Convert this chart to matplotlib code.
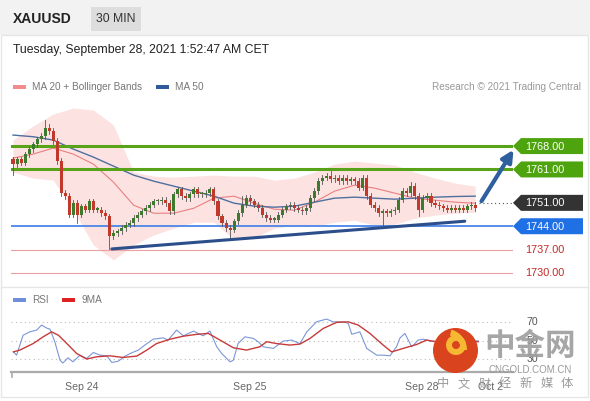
import matplotlib
matplotlib.use("Agg")
from matplotlib import pyplot as plt
from matplotlib.patches import Rectangle, Polygon, Circle, Wedge, FancyArrowPatch

plt.rcParams['font.family'] = ['Liberation Sans', 'Noto Sans CJK SC', 'DejaVu Sans']

# ---- price data (30 min candles, XAUUSD) ----
first_open = 1764.0
closes = [1762.5, 1764.0, 1763.0, 1765.5, 1767.0, 1768.5, 1770.0, 1771.0, 1773.5, 1772.5,
          1769.5, 1763.5, 1754.0, 1753.0, 1747.5, 1751.0, 1747.5, 1750.0, 1749.0, 1751.5,
          1749.0, 1749.0, 1748.0, 1747.0, 1741.0, 1742.0, 1742.5, 1743.5, 1744.5, 1745.0,
          1746.5, 1747.5, 1748.5, 1749.5, 1750.5, 1751.5, 1751.5, 1752.0, 1751.0, 1748.5,
          1753.5, 1755.0, 1753.0, 1752.5, 1753.5, 1755.0, 1753.5, 1753.5, 1754.0, 1755.0,
          1751.5, 1747.0, 1745.0, 1743.5, 1743.0, 1745.5, 1748.0, 1750.5, 1752.5, 1751.5,
          1750.5, 1749.5, 1747.5, 1746.5, 1746.0, 1746.0, 1747.5, 1749.0, 1750.0, 1750.5,
          1749.5, 1749.0, 1748.5, 1749.5, 1752.5, 1754.5, 1757.5, 1758.5, 1759.0, 1758.0,
          1758.5, 1757.5, 1758.5, 1757.5, 1758.0, 1757.5, 1755.5, 1758.5, 1753.0, 1750.5,
          1749.5, 1748.0, 1748.5, 1748.0, 1748.5, 1749.0, 1752.0, 1754.5, 1754.0, 1756.0,
          1753.0, 1749.0, 1752.5, 1753.0, 1751.0, 1750.5, 1750.0, 1749.5, 1749.0, 1749.5,
          1749.0, 1749.5, 1749.0, 1750.0, 1750.5, 1749.5]
high_marks = {8: 1775.8, 9: 1774.5, 79: 1760.5, 99: 1757.2, 57: 1753.0}
low_marks = {0: 1759.3, 16: 1745.0, 24: 1737.2, 54: 1739.8, 92: 1744.3, 101: 1747.0}

# indicators sampled every 5 candles
ma_idx = [0, 5, 10, 15, 20, 25, 30, 35, 40, 45, 50, 55, 60, 65, 70, 75, 80, 85, 90, 95, 100, 105, 110, 115]
ma50 = [1771.3, 1770.8, 1769.8, 1767.1, 1764.7, 1762.0, 1759.3, 1757.5, 1756.0, 1754.5, 1753.0, 1750.9,
        1750.0, 1749.7, 1750.0, 1751.2, 1752.4, 1752.7, 1752.4, 1752.1, 1752.4, 1752.7, 1752.9, 1753.0]
ma20 = [1764.4, 1765.6, 1767.4, 1765.6, 1762.6, 1757.2, 1750.3, 1747.9, 1747.9, 1749.4, 1752.4, 1753.0,
        1750.9, 1749.1, 1748.8, 1751.2, 1754.5, 1756.3, 1755.4, 1753.9, 1752.4, 1751.8, 1751.2, 1750.9]
bb_upper = [1769.8, 1774.0, 1777.6, 1779.4, 1778.8, 1774.3, 1760.2, 1759.0, 1758.7, 1759.0, 1759.3, 1759.0,
            1759.0, 1757.8, 1758.4, 1760.2, 1762.6, 1763.5, 1762.9, 1762.3, 1760.2, 1758.4, 1756.9, 1756.0]
bb_lower = [1760.2, 1758.4, 1757.8, 1748.8, 1738.4, 1733.9, 1738.4, 1741.4, 1743.4, 1745.2, 1745.2, 1739.9,
            1740.5, 1743.4, 1744.3, 1744.0, 1745.2, 1745.8, 1744.3, 1744.6, 1746.4, 1747.3, 1747.9, 1748.2]

rsi_idx = [0.1, 0.9, 2.5, 4.2, 5.9, 7.1, 8.4, 9.2, 10.4, 11.7, 12.4, 13.7, 14.9, 16.7, 18.3, 20.0, 21.6,
           23.3, 24.6, 26.2, 27.9, 29.5, 31.2, 32.8, 34.9, 37.4, 38.6, 40.7, 42.4, 44.9, 47.3, 49.0, 50.7,
           51.9, 54.0, 54.8, 56.0, 57.7, 59.8, 61.0, 62.3, 64.8, 67.2, 69.3, 71.4, 73.1, 75.5, 78.0, 79.7,
           82.2, 83.4, 84.3, 86.3, 88.0, 90.5, 92.1, 93.8, 95.4, 96.3, 97.5, 99.2, 100.8, 102.1, 103.7,
           105.4, 115.7]
rsi = [38, 34.5, 56, 59.7, 61.6, 67, 63.7, 62.6, 49, 29, 26, 31.6, 27.3, 34.5, 31, 37.4, 34.5,
       33.8, 26.6, 28, 33.5, 37, 40, 45.4, 51.8, 53.2, 50.8, 61.6, 55.4, 60.5, 55.4, 60.5, 43.5,
       36.4, 27.3, 29, 47, 54.3, 52.6, 49, 43.5, 41.8, 49.7, 50.8, 47, 59.7, 70.5, 73.5, 70.5,
       70.5, 68.8, 57, 59.7, 41.8, 34.5, 34.5, 33.8, 43.5, 53.2, 58, 43.5, 50.8, 51.8, 49.7,
       49, 50]
rsi9_idx = [0.1, 1.7, 5.0, 7.5, 9.6, 11.3, 13.4, 15.8, 18.3, 20.8, 24.1, 27.4, 30.8, 33.3, 35.7, 39.1,
            42.4, 45.7, 48.6, 51.5, 54.8, 58.1, 61.4, 63.1, 65.6, 68.9, 71.4, 73.9, 77.2, 80.5, 83.4,
            85.9, 88.8, 92.1, 94.2, 97.1, 100.4, 102.9, 105.4, 115.7]
rsi9 = [38, 40, 47, 54.3, 59.7, 56, 47, 36.4, 30.3, 32.7, 33.8, 32, 33.5, 40, 47, 51.8,
        55, 57, 58, 50.8, 42.5, 40, 43.5, 49, 47, 45.4, 46.5, 52.6, 63.4, 69.9, 70.5,
        67, 58, 45.4, 38, 41.8, 46, 50.8, 49, 49]

resistances = [1768.0, 1761.0]
supports = [1744.0, 1737.0, 1730.0]
last_price = 1751.0
trend_idx = [24.6, 112.4]
trend_px = [1737.2, 1745.5]
arrow_from = (116.2, 1750.8)
arrow_to = (124.9, 1767.6)

date_ticks = [17.2, 59.0, 101.8, 118.7]
date_labels = ['Sep 24', 'Sep 25', 'Sep 28', 'Oct 2']

slogan = ['中', '文', '财', '经', '新', '媒', '体']

# ---- layout ----
W, H = 590, 401
Y_TOP, Y_BOT = 1780.3, 1726.4
X_MIN, X_MAX = -0.5, 124.4


def box(l, t, r, b):
    return [l / W, 1 - b / H, (r - l) / W, (b - t) / H]


def py(price):  # price -> pixel row
    return 105 + (Y_TOP - price) * 180 / (Y_TOP - Y_BOT)


fig = plt.figure(figsize=(W / 100, H / 100), dpi=100)
fig.patch.set_facecolor('white')

bg = fig.add_axes([0, 0, 1, 1], zorder=-1)
bg.set_xlim(0, W)
bg.set_ylim(H, 0)
bg.axis('off')

# header strip
bg.add_patch(Rectangle((0, 0), W, 35, color='#f2f2f2', lw=0))
bg.add_patch(Rectangle((91, 7), 50, 24, color='#dddddd', lw=0))
bg.text(13, 19, 'XAUUSD', fontsize=10, fontweight='bold', color='#222222', va='center')
bg.text(116, 19, '30 MIN', fontsize=8.8, color='#333333', va='center', ha='center')
bg.add_patch(Rectangle((1, 35), 587, 362, fc='none', ec='#e6e6e6', lw=1))
bg.plot([1, 588], [287, 287], color='#e6e6e6', lw=1)
bg.text(13, 50, 'Tuesday, September 28, 2021 1:52:47 AM CET', fontsize=8.8, color='#222222', va='center')

# legends
bg.add_patch(Rectangle((13, 85), 13, 4, color='#f08c8c', lw=0))
bg.text(32, 87, 'MA 20 + Bollinger Bands', fontsize=7.2, color='#777777', va='center')
bg.add_patch(Rectangle((156, 85), 13, 4, color='#2f5b9a', lw=0))
bg.text(175, 87, 'MA 50', fontsize=7.2, color='#777777', va='center')
bg.text(581, 87, 'Research \u00a9 2021 Trading Central', fontsize=7.2, color='#999999', va='center', ha='right')

bg.add_patch(Rectangle((13, 298), 13, 4, color='#6f8fd8', lw=0))
bg.text(32, 300, 'RSI', fontsize=7.2, color='#777777', va='center')
bg.add_patch(Rectangle((62, 298), 13, 4, color='#dd2222', lw=0))
bg.text(81, 300, '9MA', fontsize=7.2, color='#777777', va='center')

# ---- main price panel ----
ax = fig.add_axes(box(11, 105, 513, 285))
ax.set_facecolor('none')
ax.set_xlim(X_MIN, X_MAX)
ax.set_ylim(Y_BOT, Y_TOP)
ax.axis('off')

ax.fill_between(ma_idx, bb_lower, bb_upper, color='#fde2e2', lw=0, zorder=0)
ax.plot(ma_idx, ma20, color='#e88080', lw=0.8, zorder=1)
ax.plot(ma_idx, ma50, color='#4f6f9f', lw=1.0, zorder=1)

for lv in resistances:
    ax.axhline(lv, color='#58a318', lw=2.2, zorder=2)
ax.axhline(supports[0], color='#4a86e8', lw=1.3, zorder=2)
for lv in supports[1:]:
    ax.axhline(lv, color='#eaa0a0', lw=0.8, zorder=2)

opens = [first_open] + closes[:-1]
for i, (o, c) in enumerate(zip(opens, closes)):
    col = '#3d7a2e' if c >= o else '#c0392b'
    hi = high_marks.get(i, max(o, c) + 0.8)
    lo = low_marks.get(i, min(o, c) - 0.8)
    ax.plot([i, i], [lo, hi], color='#555555', lw=0.6, zorder=3)
    body = max(abs(c - o), 0.35)
    ax.add_patch(Rectangle((i - 0.38, min(o, c)), 0.76, body, color=col, lw=0, zorder=4))

ax.plot(trend_idx, trend_px, color='#2c4f8c', lw=2.2, solid_capstyle='round', zorder=5)
ax.plot([len(closes), X_MAX], [last_price, last_price], color='#555555', lw=0.8, ls=(0, (1, 2.5)), zorder=2)
ax.add_patch(FancyArrowPatch(arrow_from, arrow_to, arrowstyle='-|>', mutation_scale=17, lw=3,
                             color='#2e5f9e', clip_on=False, zorder=6))

# ---- RSI panel ----
rs = fig.add_axes(box(11, 313, 513, 372))
rs.set_facecolor('none')
rs.set_xlim(X_MIN, X_MAX)
rs.set_ylim(16.3, 80.05)
for s in ['top', 'right', 'left']:
    rs.spines[s].set_visible(False)
rs.spines['bottom'].set_color('#aaaaaa')
rs.spines['bottom'].set_linewidth(1.6)
rs.set_yticks([])
rs.set_xticks(date_ticks)
rs.set_xticklabels(date_labels, fontsize=7.6, color='#666666')
rs.tick_params(axis='x', length=0, pad=7)
for lv in [70, 50, 30]:
    rs.axhline(lv, color='#bbbbbb', lw=0.8, ls=(0, (1, 3)))
    rs.text(X_MAX + 3.3, lv, str(lv), fontsize=7.6, color='#555555', va='center', clip_on=False)
rs.plot(rsi_idx, rsi, color='#7b96d8', lw=0.8)
rs.plot(rsi9_idx, rsi9, color='#c83a3a', lw=1.0)
bg.plot([11.5, 11.5], [372, 377], color='#aaaaaa', lw=1.2)

# ---- overlay: price tags + watermark ----
ov = fig.add_axes([0, 0, 1, 1], zorder=5)
ov.set_xlim(0, W)
ov.set_ylim(H, 0)
ov.axis('off')

tags = [(resistances[0], '#4ea40e'), (resistances[1], '#4ea40e'), (last_price, '#333333'),
        (supports[0], '#1f6fe5')]
for lv, col in tags:
    y = py(lv)
    ov.add_patch(Polygon([(513, y), (521, y - 8), (583, y - 8), (583, y + 8), (521, y + 8)],
                         closed=True, color=col, lw=0))
    ov.text(525, y + 0.5, f'{lv:.2f}', fontsize=7.8, color='white', va='center')
for lv in supports[1:]:
    ov.text(525, py(lv) + 0.5, f'{lv:.2f}', fontsize=7.8, color='#c62828', va='center')

# watermark
ov.add_patch(Circle((455.5, 350.5), 22.5, color='#d9431d', lw=0))
ov.add_patch(Wedge((456, 345), 10, 0, 360, width=6, color='#f6b733', lw=0))
ov.add_patch(Wedge((446, 350), 21, 285, 360, width=6, color='#f6b733', lw=0))
ov.text(530, 346, '中金网', fontsize=22, fontweight='bold', color='#9d9d9d', alpha=0.9,
        ha='center', va='center', family=['Noto Sans CJK SC'])
ov.text(530, 370, 'CNGOLD.COM.CN', fontsize=7, color='#999999', ha='center', va='center')
for k, ch in enumerate(slogan):
    ov.text(443 + 20.7 * k, 384, ch, fontsize=8.8, color='#999999', ha='center', va='center',
            family=['Noto Sans CJK SC'])

fig.savefig('out.png', dpi=100)
